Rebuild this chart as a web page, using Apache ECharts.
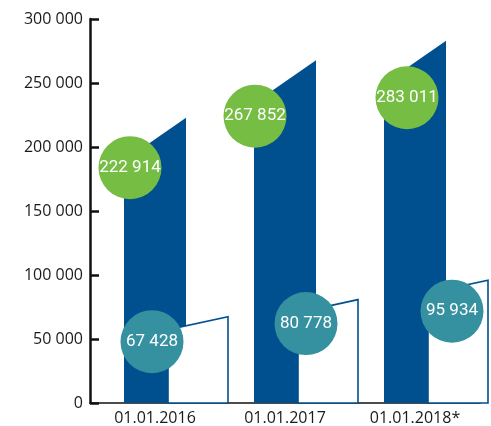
<!DOCTYPE html>
<html>
<head>
<meta charset="utf-8">
<script src="https://cdn.jsdelivr.net/npm/echarts@6/dist/echarts.min.js"></script>
<style>
  html, body { margin: 0; padding: 0; background: #fff; }
  #chart { width: 491px; height: 426px; }
</style>
</head>
<body>
<div id="chart"></div>
<script>
// данные
var categories = ['01.01.2016', '01.01.2017', '01.01.2018*'];
var totalValues = [222914, 267852, 283011];
var partValues = [67428, 80778, 95934];

// смещения кружков-подписей (px) относительно верхушки столбца
var totalBadgeShift = [[-25, 50], [-30, 56], [-8, 57]];
var partBadgeShift = [[-3, 25], [21, 24], [37, 31]];

var darkBlue = '#00508f';
var green = '#76bd43';
var teal = '#3590a0';

function fmt(v) {
    return String(v).replace(/\B(?=(\d{3})+(?!\d))/g, ' ');
}

var chart = echarts.init(document.getElementById('chart'));

// тёмный столбец со скошенным верхом
function renderTotal(params, api) {
    var base = api.coord([api.value(0), 0]);
    var top = api.coord([api.value(0), api.value(1)]);
    var x0 = top[0] - 31, x1 = top[0] + 31;
    return {
        type: 'polygon',
        shape: { points: [[x0, base[1]], [x0, top[1] + 43], [x1, top[1]], [x1, base[1]]] },
        style: { fill: darkBlue }
    };
}

// белый столбец с синей обводкой
function renderPart(params, api) {
    var base = api.coord([api.value(0), 0]);
    var top = api.coord([api.value(0), api.value(1)]);
    var x0 = top[0] + 13, x1 = top[0] + 73;
    return {
        type: 'polygon',
        shape: { points: [[x0, base[1]], [x0, top[1] + 13], [x1, top[1]], [x1, base[1]]] },
        style: { fill: '#fff', stroke: darkBlue, lineWidth: 1.6 }
    };
}

function badge(shifts, color) {
    return function (params, api) {
        var i = api.value(0);
        var top = api.coord([i, api.value(1)]);
        var cx = top[0] + shifts[i][0], cy = top[1] + shifts[i][1];
        return {
            type: 'group',
            children: [{
                type: 'circle',
                shape: { cx: cx, cy: cy, r: 31.5 },
                style: { fill: color }
            }, {
                type: 'text',
                x: cx, y: cy,
                style: {
                    text: fmt(api.value(1)),
                    fill: '#fff',
                    font: '17px Roboto',
                    align: 'center',
                    verticalAlign: 'middle'
                }
            }]
        };
    };
}

function pairs(arr) {
    return arr.map(function (v, i) { return [i, v]; });
}

var option = {
    animation: false,
    grid: { left: 90, right: 11, top: 19, bottom: 23 },
    xAxis: {
        type: 'category',
        data: categories,
        axisLine: { lineStyle: { color: '#111', width: 1.6 } },
        axisTick: { show: false },
        axisLabel: { color: '#1a1a1a', fontSize: 16, fontFamily: 'Open Sans', margin: 7 }
    },
    yAxis: {
        type: 'value',
        min: 0,
        max: 300000,
        interval: 50000,
        axisLine: { show: true, lineStyle: { color: '#111', width: 2.5 } },
        axisTick: { show: true, inside: true, length: 9, lineStyle: { color: '#111', width: 2.5 } },
        splitLine: { show: false },
        axisLabel: { color: '#1a1a1a', fontSize: 16, fontFamily: 'Open Sans', margin: 7, formatter: fmt }
    },
    series: [
        { type: 'custom', renderItem: renderTotal, data: pairs(totalValues), z: 2 },
        { type: 'custom', renderItem: renderPart, data: pairs(partValues), z: 3 },
        { type: 'custom', renderItem: badge(totalBadgeShift, green), data: pairs(totalValues), z: 4 },
        { type: 'custom', renderItem: badge(partBadgeShift, teal), data: pairs(partValues), z: 4 }
    ]
};

chart.setOption(option);
</script>
</body>
</html>
